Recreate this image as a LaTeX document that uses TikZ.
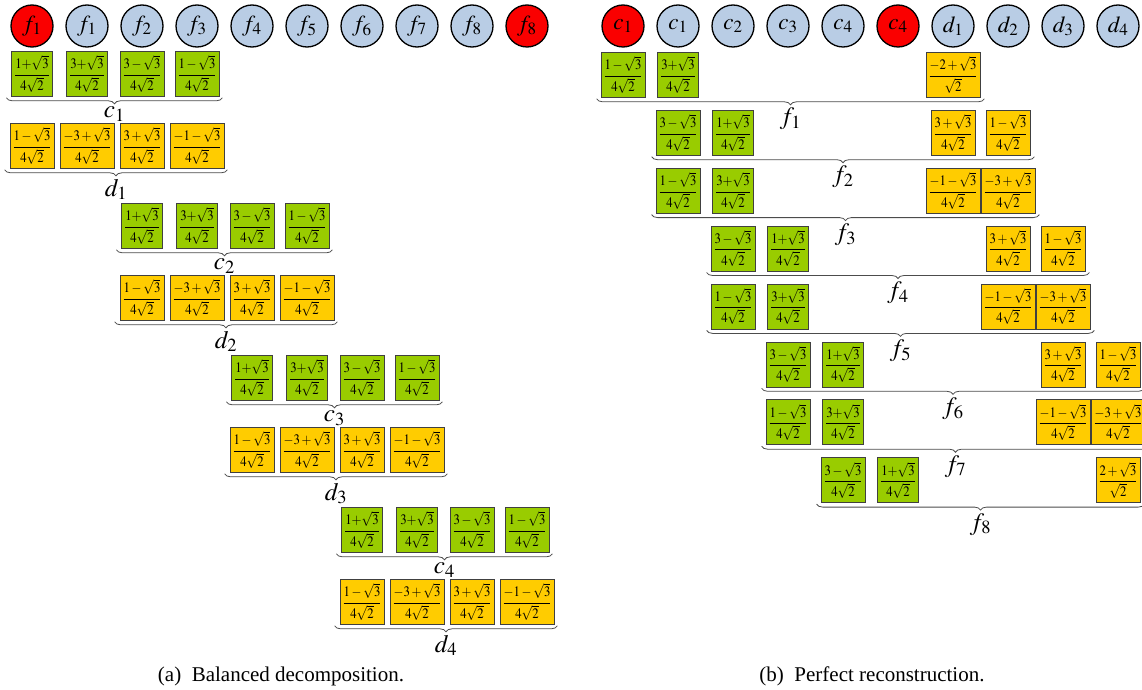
\documentclass[tikz,border=0pt]{standalone}
\usepackage{amsmath}
\usepackage{graphicx}
\usepackage{mathptmx}
\usepackage{fontspec}
\setmainfont{Liberation Serif}
\usetikzlibrary{decorations.pathreplacing,calc}

\definecolor{sigblue}{RGB}{185,205,229}
\definecolor{bndred}{RGB}{250,0,0}
\definecolor{lowgreen}{RGB}{153,204,0}
\definecolor{highgold}{RGB}{255,204,0}

% filter coefficients with the two usual denominators, set slightly narrow
\newcommand\coefq[1]{\scalebox{0.88}[1]{$\dfrac{#1}{4\sqrt{2}}$}}
\newcommand\coefr[1]{\scalebox{0.88}[1]{$\dfrac{#1}{\sqrt{2}}$}}

\begin{document}
\begin{tikzpicture}[x=1pt,y=-1pt,
  sig/.style={circle, draw=black, line width=1.3pt, minimum size=42pt, inner sep=0pt,
              fill=sigblue, font=\fontsize{23}{27}\selectfont},
  bnd/.style={sig, fill=bndred},
  coef/.style={draw=black!75, line width=0.8pt, inner xsep=2.5pt, inner ysep=1.5pt,
               minimum height=45pt, anchor=north, font=\fontsize{14.5}{17}\selectfont},
  lo/.style={coef, fill=lowgreen},
  hi/.style={coef, fill=highgold},
  brc/.style={decorate, decoration={brace, mirror, amplitude=6pt},
              draw=black!70, line width=0.8pt},
  blab/.style={anchor=north, inner sep=0pt, font=\fontsize{25}{29}\selectfont},
  captext/.style={anchor=base, inner sep=0pt, font=\fontsize{21}{25}\selectfont}]
\useasboundingbox (0,0) rectangle (1142,690);

% ---------------- (a) balanced decomposition ----------------
\foreach \k/\lab/\st in {0/f_1/bnd,1/f_1/sig,2/f_2/sig,3/f_3/sig,4/f_4/sig,
                         5/f_5/sig,6/f_6/sig,7/f_7/sig,8/f_8/sig,9/f_8/bnd}
  \node[\st] (LS\k) at ({32+55*\k},26) {$\lab$};

\foreach \i in {1,2,3,4}{
  \pgfmathsetmacro\rowtop{51+152*(\i-1)}
  \pgfmathsetmacro\rowlow{\rowtop+72}
  \foreach \j/\num in {1/1{+}\sqrt{3},2/3{+}\sqrt{3},3/3-\sqrt{3},4/1-\sqrt{3}}
    \node[lo] (Lc\i-\j) at ({32+55*(2*\i-3+\j)},\rowtop) {\coefq{\num}};
  \foreach \j/\num in {1/1-\sqrt{3},2/-3+\sqrt{3},3/3+\sqrt{3},4/-1-\sqrt{3}}
    \node[hi] (Ld\i-\j) at ({32+55*(2*\i-3+\j)},\rowlow) {\coefq{\num}};
  \path ($(Lc\i-1.south west)+(-5,1)$) coordinate (Lcl\i)
        ($(Lc\i-4.south east)+(3,1)$)  coordinate (Lcr\i)
        ($(Ld\i-1.south west)+(-5,1)$) coordinate (Ldl\i)
        ($(Ld\i-4.south east)+(3,1)$)  coordinate (Ldr\i);
  \draw[brc] (Lcl\i) -- (Lcr\i);
  \draw[brc] (Ldl\i) -- (Ldr\i);
  \node[blab] (Lcn\i) at ($(Lcl\i)!.5!(Lcr\i)+(0,9)$) {$c_{\i}$};
  \node[blab] (Ldn\i) at ($(Ldl\i)!.5!(Ldr\i)+(0,9)$) {$d_{\i}$};
}

\node[captext] (capa) at (281,681) {(a)\enspace Balanced decomposition.};

% ---------------- (b) perfect reconstruction ----------------
\foreach \k/\lab/\st in {0/c_1/bnd,1/c_1/sig,2/c_2/sig,3/c_3/sig,4/c_4/sig,
                         5/c_4/bnd,6/d_1/sig,7/d_2/sig,8/d_3/sig,9/d_4/sig}
  \node[\st] (RS\k) at ({623+55*\k},26) {$\lab$};

% row f_1
\node[lo] (R1a) at (623,52) {\coefq{1-\sqrt{3}}};
\node[lo] (R1b) at (678,52) {\coefq{3{+}\sqrt{3}}};
\node[hi] (R1c) at (953,52) {\coefr{-2+\sqrt{3}}};
% row f_2
\node[lo] (R2a) at (678,109.9) {\coefq{3-\sqrt{3}}};
\node[lo] (R2b) at (733,109.9) {\coefq{1{+}\sqrt{3}}};
\node[hi] (R2c) at (953,109.9) {\coefq{3+\sqrt{3}}};
\node[hi] (R2d) at (1008,109.9) {\coefq{1-\sqrt{3}}};
% row f_3
\node[lo] (R3a) at (678,167.8) {\coefq{1-\sqrt{3}}};
\node[lo] (R3b) at (733,167.8) {\coefq{3{+}\sqrt{3}}};
\node[hi] (R3c) at (953,167.8) {\coefq{-1-\sqrt{3}}};
\node[hi] (R3d) at (1008,167.8) {\coefq{-3+\sqrt{3}}};
% row f_4
\node[lo] (R4a) at (733,225.7) {\coefq{3-\sqrt{3}}};
\node[lo] (R4b) at (788,225.7) {\coefq{1{+}\sqrt{3}}};
\node[hi] (R4c) at (1008,225.7) {\coefq{3+\sqrt{3}}};
\node[hi] (R4d) at (1063,225.7) {\coefq{1-\sqrt{3}}};
% row f_5
\node[lo] (R5a) at (733,283.6) {\coefq{1-\sqrt{3}}};
\node[lo] (R5b) at (788,283.6) {\coefq{3{+}\sqrt{3}}};
\node[hi] (R5c) at (1008,283.6) {\coefq{-1-\sqrt{3}}};
\node[hi] (R5d) at (1063,283.6) {\coefq{-3+\sqrt{3}}};
% row f_6
\node[lo] (R6a) at (788,341.5) {\coefq{3-\sqrt{3}}};
\node[lo] (R6b) at (843,341.5) {\coefq{1{+}\sqrt{3}}};
\node[hi] (R6c) at (1063,341.5) {\coefq{3+\sqrt{3}}};
\node[hi] (R6d) at (1118,341.5) {\coefq{1-\sqrt{3}}};
% row f_7
\node[lo] (R7a) at (788,399.4) {\coefq{1-\sqrt{3}}};
\node[lo] (R7b) at (843,399.4) {\coefq{3{+}\sqrt{3}}};
\node[hi] (R7c) at (1063,399.4) {\coefq{-1-\sqrt{3}}};
\node[hi] (R7d) at (1118,399.4) {\coefq{-3+\sqrt{3}}};
% row f_8
\node[lo] (R8a) at (843,457.3) {\coefq{3-\sqrt{3}}};
\node[lo] (R8b) at (898,457.3) {\coefq{1{+}\sqrt{3}}};
\node[hi] (R8c) at (1118,457.3) {\coefr{2+\sqrt{3}}};

\foreach \r/\last in {1/c,2/d,3/d,4/d,5/d,6/d,7/d,8/c}{
  \path ($(R\r a.south west)+(-4,1)$) coordinate (Rl\r)
        ($(R\r\last.south east)+(4,1)$) coordinate (Rr\r);
  \draw[brc] (Rl\r) -- (Rr\r);
  \node[blab] (Rn\r) at ($(Rl\r)!.5!(Rr\r)+(0,9)$) {$f_{\r}$};
}

\node[captext] (capb) at (872,681) {(b)\enspace Perfect reconstruction.};
\end{tikzpicture}
\end{document}
